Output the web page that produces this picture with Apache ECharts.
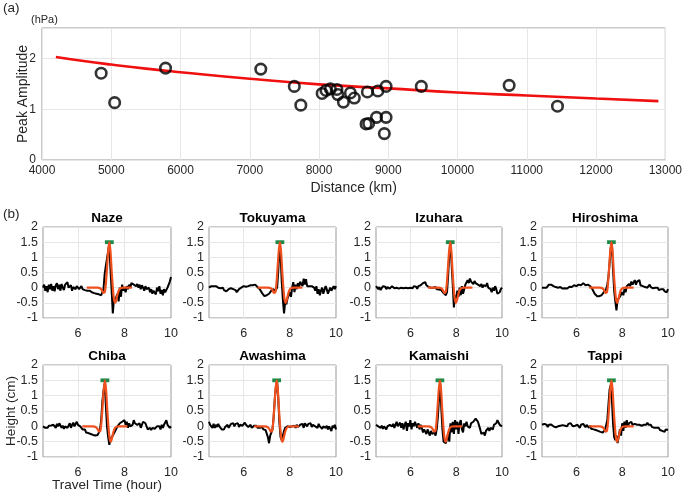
<!DOCTYPE html>
<html><head><meta charset="utf-8">
<script src="https://cdn.jsdelivr.net/npm/echarts@6/dist/echarts.min.js"></script>
<style>html,body{margin:0;padding:0;background:#fff}#c{width:685px;height:494px}</style>
</head><body><div id="c"></div>
<script>
// ---- panel (a) data ----
const distKm  = [4854,5049,5784,7159,7643,7737,8045,8101,8164,8258,8271,8352,8453,8509,8698,8679,8717,8830,8849,8968,8968,8943,9477,10745,11443];
const peakAmp = [1.71,1.13,1.81,1.79,1.45,1.08,1.31,1.37,1.40,1.39,1.29,1.14,1.32,1.22,1.34,0.71,0.72,0.84,1.36,1.45,0.84,0.52,1.45,1.47,1.06];
const fitKm   = [4200,4600,5000,5500,6000,7000,8000,9000,10000,11000,12000,12900];
const fitAmp  = [2.03,1.95,1.88,1.80,1.73,1.60,1.49,1.41,1.33,1.27,1.21,1.16];
const aXTicks = [4000,5000,6000,7000,8000,9000,10000,11000,12000,13000];
const aYTicks = [0,1,2];

// ---- panel (b) data ----
const stations = ['Naze','Tokuyama','Izuhara','Hiroshima','Chiba','Awashima','Kamaishi','Tappi'];
const traceStart = 4.5, traceStep = 0.05;
const naze = [0.0,0.1,-0.1,0.05,-0.15,0.1,-0.05,0.12,-0.1,0.05,
 -0.12,0.08,0.15,-0.05,0.1,-0.1,0.12,0.0,-0.08,0.1,
 0.05,0.18,0.0,-0.05,0.08,-0.1,0.02,0.0,-0.05,0.05,
 0.02,-0.05,0.0,0.05,-0.05,0.0,-0.08,-0.02,-0.1,-0.05,
 -0.1,-0.05,-0.15,-0.1,-0.18,-0.12,-0.2,-0.15,-0.22,-0.2,
 -0.25,-0.2,-0.05,0.45,0.72,0.75,1.2,1.45,0.6,-0.1,
 -0.85,-0.35,-0.5,-0.3,-0.2,-0.45,0.0,-0.3,0.1,-0.1,
 0.0,-0.15,0.05,-0.05,0.1,0.0,0.15,0.2,0.1,0.15,
 0.05,0.12,0.0,0.1,-0.05,0.08,0.0,-0.1,0.05,-0.05,
 -0.1,0.0,-0.15,-0.05,-0.2,-0.1,-0.15,-0.22,0.0,-0.12,
 0.05,-0.2,-0.08,-0.25,-0.05,-0.15,-0.2,0.0,0.1,0.2,0.35];
const tokuyama = [0.0,-0.02,0.05,0.08,0.05,0.1,0.05,0.08,0.0,0.05,
 -0.02,-0.05,0.0,-0.08,-0.05,-0.12,-0.08,-0.05,0.0,-0.02,
 0.02,-0.05,-0.1,-0.08,-0.15,-0.1,-0.05,-0.08,0.0,0.02,
 0.05,0.0,0.03,0.08,0.05,0.1,0.08,0.12,0.08,0.05,
 0.1,0.05,0.02,0.0,-0.05,-0.1,-0.18,-0.22,-0.28,-0.3,
 -0.25,-0.28,-0.2,-0.15,-0.1,-0.15,-0.05,-0.12,-0.15,0.0,
 0.55,1.3,1.1,0.2,-0.4,-0.85,-0.45,-0.55,-0.35,-0.4,
 -0.15,-0.3,0.0,0.18,-0.15,0.1,-0.05,0.15,0.0,0.2,
 0.25,0.05,0.3,0.1,0.28,0.05,0.08,0.05,0.1,0.05,
 0.05,0.0,-0.1,0.05,-0.2,-0.05,-0.25,-0.1,0.0,-0.2,
 -0.15,0.05,-0.05,-0.2,-0.1,0.0,-0.1,-0.05,0.05,-0.05,0.05];
const izuhara = [0.05,0.0,-0.05,0.02,-0.08,-0.02,0.05,0.0,0.03,-0.05,
 0.02,0.05,-0.03,0.0,0.05,0.02,-0.02,0.03,0.0,0.02,
 -0.03,0.02,0.0,0.05,-0.02,0.03,0.0,0.05,-0.02,0.02,
 0.0,0.04,-0.02,0.05,0.0,0.03,-0.04,0.05,0.0,0.08,
 0.05,0.15,0.12,0.18,0.08,0.1,0.02,0.05,0.0,0.04,
 0.0,-0.03,0.02,-0.05,-0.02,-0.06,-0.1,-0.08,-0.12,-0.18,
 -0.2,-0.25,-0.15,0.4,1.1,1.45,0.8,0.1,-0.65,-0.25,
 -0.35,-0.1,-0.3,0.0,-0.25,0.05,-0.2,-0.15,0.1,0.05,
 0.25,0.15,0.3,0.2,0.25,0.12,0.22,0.15,0.2,0.1,
 0.15,0.05,0.12,0.0,0.08,0.1,0.05,0.15,0.0,0.05,
 -0.05,-0.15,0.0,-0.1,0.05,-0.05,-0.2,-0.25,-0.15,-0.05,0.0];
const hiroshima = [0.0,-0.02,0.0,0.03,0.0,0.05,0.1,0.15,0.1,0.05,
 0.05,0.08,0.02,0.05,0.0,-0.03,0.02,0.0,-0.03,0.0,
 -0.02,0.02,-0.03,0.0,0.03,0.05,0.02,0.05,0.08,0.03,
 0.05,0.08,0.1,0.12,0.08,0.1,0.15,0.12,0.08,0.1,
 0.1,0.08,0.05,0.02,-0.05,-0.1,-0.2,-0.25,-0.28,-0.3,
 -0.28,-0.3,-0.25,-0.2,-0.15,-0.1,-0.05,0.1,0.35,0.8,
 1.3,1.45,0.6,-0.1,-0.45,-0.75,-0.4,-0.45,-0.3,-0.35,
 -0.15,-0.25,-0.05,-0.15,0.05,0.0,0.12,0.05,0.2,0.1,
 0.15,0.25,0.1,0.2,0.15,0.25,0.08,0.12,0.05,0.1,
 0.02,0.08,0.0,0.05,0.1,0.02,0.05,-0.02,0.03,0.0,
 -0.05,0.0,-0.08,-0.03,-0.05,-0.1,-0.05,-0.12,-0.08,-0.15,-0.05];
const chiba = [0.0,-0.03,-0.05,0.0,-0.05,0.02,-0.03,0.03,0.0,0.05,
 0.05,-0.05,0.08,0.0,0.1,0.05,-0.05,0.02,-0.08,0.0,
 0.05,-0.05,0.0,0.1,-0.05,0.05,0.12,0.0,0.05,0.15,
 0.05,0.1,0.0,-0.05,-0.1,-0.15,-0.1,-0.2,-0.15,-0.22,
 -0.2,-0.25,-0.2,-0.28,-0.22,-0.3,-0.25,-0.28,-0.2,-0.1,
 0.2,0.8,1.15,1.4,0.7,0.0,-0.35,-0.6,-0.4,-0.45,
 -0.3,-0.35,-0.15,-0.2,0.0,-0.05,0.1,0.05,0.15,0.1,
 0.2,0.05,0.15,-0.05,0.1,0.0,-0.05,0.05,0.2,0.1,
 0.15,0.05,0.0,0.1,-0.05,0.05,0.15,0.2,0.1,0.0,
 -0.1,-0.15,-0.05,-0.12,-0.05,0.0,-0.08,-0.1,0.0,-0.05,
 0.0,-0.1,0.05,-0.05,0.05,0.1,0.2,0.05,0.0,-0.05,0.0];
const awashima = [0.15,0.05,0.1,-0.05,0.08,-0.05,0.05,-0.02,0.08,0.0,
 -0.05,-0.1,-0.05,-0.1,-0.02,-0.08,0.05,-0.05,0.0,0.08,
 0.02,0.1,0.0,0.08,0.05,0.1,-0.02,0.05,0.08,0.02,
 0.05,0.12,0.05,0.08,-0.02,0.0,0.05,-0.05,0.0,0.02,
 -0.03,0.02,-0.05,0.0,-0.05,-0.08,-0.02,-0.1,-0.05,-0.12,
 -0.15,-0.35,-0.55,-0.3,-0.35,-0.1,0.3,0.9,1.3,1.45,
 0.9,0.1,-0.35,-0.45,-0.3,-0.15,-0.05,-0.1,0.0,-0.05,
 -0.02,-0.08,0.0,-0.05,0.02,-0.05,0.05,-0.02,0.0,0.05,
 0.0,0.08,-0.05,0.1,0.05,0.0,0.08,0.05,0.1,-0.02,
 0.05,0.1,0.0,0.05,-0.05,0.08,0.0,0.05,-0.08,0.0,
 0.05,-0.05,0.02,-0.1,0.0,0.05,-0.15,0.02,-0.05,0.05,-0.1];
const kamaishi = [0.05,0.1,0.0,0.05,-0.05,0.02,-0.08,0.0,-0.05,-0.1,
 0.0,-0.05,0.05,0.1,0.0,0.08,-0.05,0.05,0.15,0.0,
 0.05,0.12,-0.05,0.1,-0.1,0.05,0.15,-0.15,0.1,0.0,
 0.2,-0.1,0.1,0.0,0.15,0.05,-0.05,0.1,-0.1,0.05,
 -0.05,-0.2,-0.1,-0.15,-0.25,-0.1,-0.2,-0.3,-0.15,-0.25,
 -0.3,-0.2,-0.3,-0.1,0.3,0.9,1.4,0.6,-0.1,-0.5,
 -0.45,-0.55,-0.5,-0.25,-0.5,0.1,-0.2,0.15,-0.25,0.2,
 -0.1,0.15,-0.25,0.1,0.2,-0.1,-0.2,0.1,0.0,0.15,
 0.0,0.05,-0.05,0.1,0.05,0.15,0.2,0.25,0.2,0.15,
 0.1,-0.1,-0.25,-0.3,-0.2,-0.3,-0.15,-0.2,-0.05,-0.15,
 -0.05,0.0,-0.1,0.05,0.0,0.1,0.2,0.25,0.05,0.0,0.0];
const tappi = [0.05,0.0,0.08,0.02,0.05,-0.02,0.05,0.0,0.06,0.02,
 0.0,0.05,-0.03,0.02,0.0,0.05,0.02,-0.02,0.04,0.0,
 0.02,0.05,0.0,0.08,0.05,0.1,0.04,0.0,0.05,0.02,
 -0.02,0.05,0.0,-0.05,0.05,0.0,0.08,0.02,-0.03,0.05,
 0.0,-0.05,0.02,-0.08,-0.05,-0.1,-0.08,-0.12,-0.1,-0.15,
 -0.12,-0.18,-0.15,-0.2,-0.15,-0.12,-0.1,0.2,0.7,1.2,
 1.35,0.9,0.1,-0.35,-0.45,-0.3,-0.55,-0.5,-0.1,-0.3,
 0.1,-0.15,0.15,-0.05,0.2,0.0,0.1,0.05,0.15,0.05,
 0.0,0.08,0.02,0.05,0.0,0.05,0.1,0.02,0.08,0.05,
 0.1,0.05,0.12,0.05,0.0,0.05,-0.02,0.03,-0.05,0.0,
 -0.05,-0.1,-0.05,-0.12,-0.1,-0.15,-0.12,-0.18,-0.1,-0.15,-0.12];
const traces = [naze,tokuyama,izuhara,hiroshima,chiba,awashima,kamaishi,tappi];
const fitPeakTime = [7.35,7.57,7.74,7.53,7.16,7.43,7.29,7.53];
const pulseOffset = [-0.97,-0.5,-0.4,-0.32,-0.26,-0.2,-0.15,-0.1,-0.05,0,0.05,0.1,0.15,0.2,0.25,0.3,0.36,0.42,0.5,0.6,0.97];
const pulseValue  = [0,0,-0.02,-0.08,-0.17,-0.16,0.12,0.65,1.2,1.5,1.2,0.55,0.0,-0.38,-0.5,-0.4,-0.2,-0.07,-0.01,0,0];
const barLevel = 1.5, barHalfWidth = 0.19;
const bXTicks = [6,8,10];
const bYTicks = [-1,-0.5,0,0.5,1,1.5,2];

// ---- styles ----
const FONT = '"Liberation Sans", Arial, sans-serif';
const TXT = '#262626', BOX = '#999999', GRIDC = '#e6e6e6';

const chart = echarts.init(document.getElementById('c'), null, {renderer:'canvas'});
const grid = [], xAxis = [], yAxis = [], series = [];

// panel (a)
grid.push({left:42, top:28, width:625, height:132, show:true, borderColor:BOX, borderWidth:1, backgroundColor:'transparent'});
xAxis.push({type:'value', gridIndex:0, min:aXTicks[0], max:aXTicks[aXTicks.length-1], interval:1000,
  axisLine:{show:false}, axisTick:{show:false},
  axisLabel:{color:TXT, fontSize:12, fontFamily:FONT, margin:5, formatter:v=>String(v)},
  splitLine:{show:true, lineStyle:{color:GRIDC, width:1}},
  name:'Distance (km)', nameLocation:'middle', nameGap:21, nameMoveOverlap:false,
  nameTextStyle:{color:TXT, fontSize:14, fontFamily:FONT}});
yAxis.push({type:'value', gridIndex:0, min:0, max:2.6, interval:1,
  axisLine:{show:false}, axisTick:{show:false},
  axisLabel:{color:TXT, fontSize:12, fontFamily:FONT, margin:6, showMaxLabel:false,
    formatter:v=>aYTicks.indexOf(v)>=0?String(v):''},
  splitLine:{show:true, lineStyle:{color:GRIDC, width:1}},
  name:'Peak Amplitude', nameLocation:'middle', nameGap:12, nameMoveOverlap:false,
  nameTextStyle:{color:TXT, fontSize:14, fontFamily:FONT}});
series.push({type:'line', xAxisIndex:0, yAxisIndex:0, data:fitKm.map((k,i)=>[k,fitAmp[i]]),
  smooth:true, showSymbol:false, lineStyle:{color:'#f01010', width:2.6}, z:3, silent:true});
series.push({type:'scatter', xAxisIndex:0, yAxisIndex:0, data:distKm.map((k,i)=>[k,peakAmp[i]]),
  symbol:'circle', symbolSize:10.5, itemStyle:{color:'rgba(0,0,0,0)', borderColor:'#000', borderWidth:2.6}, z:4, silent:true});

// panel (b)
const colLeft = [43,209,376,542], colW = [128,127,126,126];
const rowTop = [227,365], rowH = [91,92];
const graphics = [];
stations.forEach((name,k)=>{
  const r = Math.floor(k/4), c = k%4, gi = k+1;
  grid.push({left:colLeft[c], top:rowTop[r], width:colW[c], height:rowH[r], show:true, borderColor:BOX, borderWidth:1, backgroundColor:'transparent'});
  const xa = {type:'value', gridIndex:gi, min:4.5, max:10, interval:0.5,
    axisLine:{show:false}, axisTick:{show:false},
    axisLabel:{color:TXT, fontSize:12.5, fontFamily:FONT, margin:9, formatter:v=>bXTicks.indexOf(v)>=0?String(v):''},
    splitLine:{show:false}};
  if (k===4) Object.assign(xa,{name:'Travel Time (hour)', nameLocation:'middle', nameGap:21, nameMoveOverlap:false,
    nameTextStyle:{color:TXT, fontSize:13.5, fontFamily:FONT}});
  xAxis.push(xa);
  const ya = {type:'value', gridIndex:gi, min:-1, max:2, interval:0.5,
    axisLine:{show:false}, axisTick:{show:false},
    axisLabel:{color:TXT, fontSize:12.5, fontFamily:FONT, margin:5, formatter:v=>String(v)},
    splitLine:{show:true, lineStyle:{color:GRIDC, width:1}}};
  if (k===4) Object.assign(ya,{name:'Height (cm)', nameLocation:'middle', nameGap:25, nameMoveOverlap:false,
    nameTextStyle:{color:TXT, fontSize:13.5, fontFamily:FONT}});
  yAxis.push(ya);
  const tr = traces[k].map((v,i)=>[+(traceStart+i*traceStep).toFixed(2), v]);
  series.push({type:'line', xAxisIndex:gi, yAxisIndex:gi, data:tr, showSymbol:false, silent:true,
    lineStyle:{color:'#000', width:2}, z:2,
    markLine:{silent:true, symbol:'none', z:1, label:{show:false}, animation:false,
      lineStyle:{color:GRIDC, width:1, type:'solid'},
      data:bXTicks.slice(0,2).map(t=>({xAxis:t}))}});
  const t0 = fitPeakTime[k];
  series.push({type:'line', xAxisIndex:gi, yAxisIndex:gi,
    data:[[t0-barHalfWidth,barLevel],[t0+barHalfWidth,barLevel]], showSymbol:false, silent:true,
    lineStyle:{color:'#1d8a4a', width:3.8}, z:3});
  series.push({type:'line', xAxisIndex:gi, yAxisIndex:gi,
    data:pulseOffset.map((d,i)=>[+(t0+d).toFixed(3), pulseValue[i]]), smooth:0.2, showSymbol:false, silent:true,
    lineStyle:{color:'#f0501e', width:2.2}, z:4});
  const cx = colLeft[c] + colW[c]/2;
  const ty = r===0 ? 218 : 356;
  graphics.push({type:'text', x:cx, y:ty, style:{text:name, font:'bold 13.5px '+FONT, fill:'#000', align:'center', verticalAlign:'middle', textAlign:'center', textVerticalAlign:'middle'}});
});

graphics.push({type:'text', x:3, y:8, style:{text:'(a)', font:'13.5px '+FONT, fill:TXT, align:'left', verticalAlign:'middle', textAlign:'left', textVerticalAlign:'middle'}});
graphics.push({type:'text', x:3, y:214, style:{text:'(b)', font:'13.5px '+FONT, fill:TXT, align:'left', verticalAlign:'middle', textAlign:'left', textVerticalAlign:'middle'}});
graphics.push({type:'text', x:31, y:20, style:{text:'(hPa)', font:'11px '+FONT, fill:TXT, align:'left', verticalAlign:'middle', textAlign:'left', textVerticalAlign:'middle'}});

chart.setOption({animation:false, backgroundColor:'#fff', grid, xAxis, yAxis, series, graphic:graphics});
</script></body></html>
